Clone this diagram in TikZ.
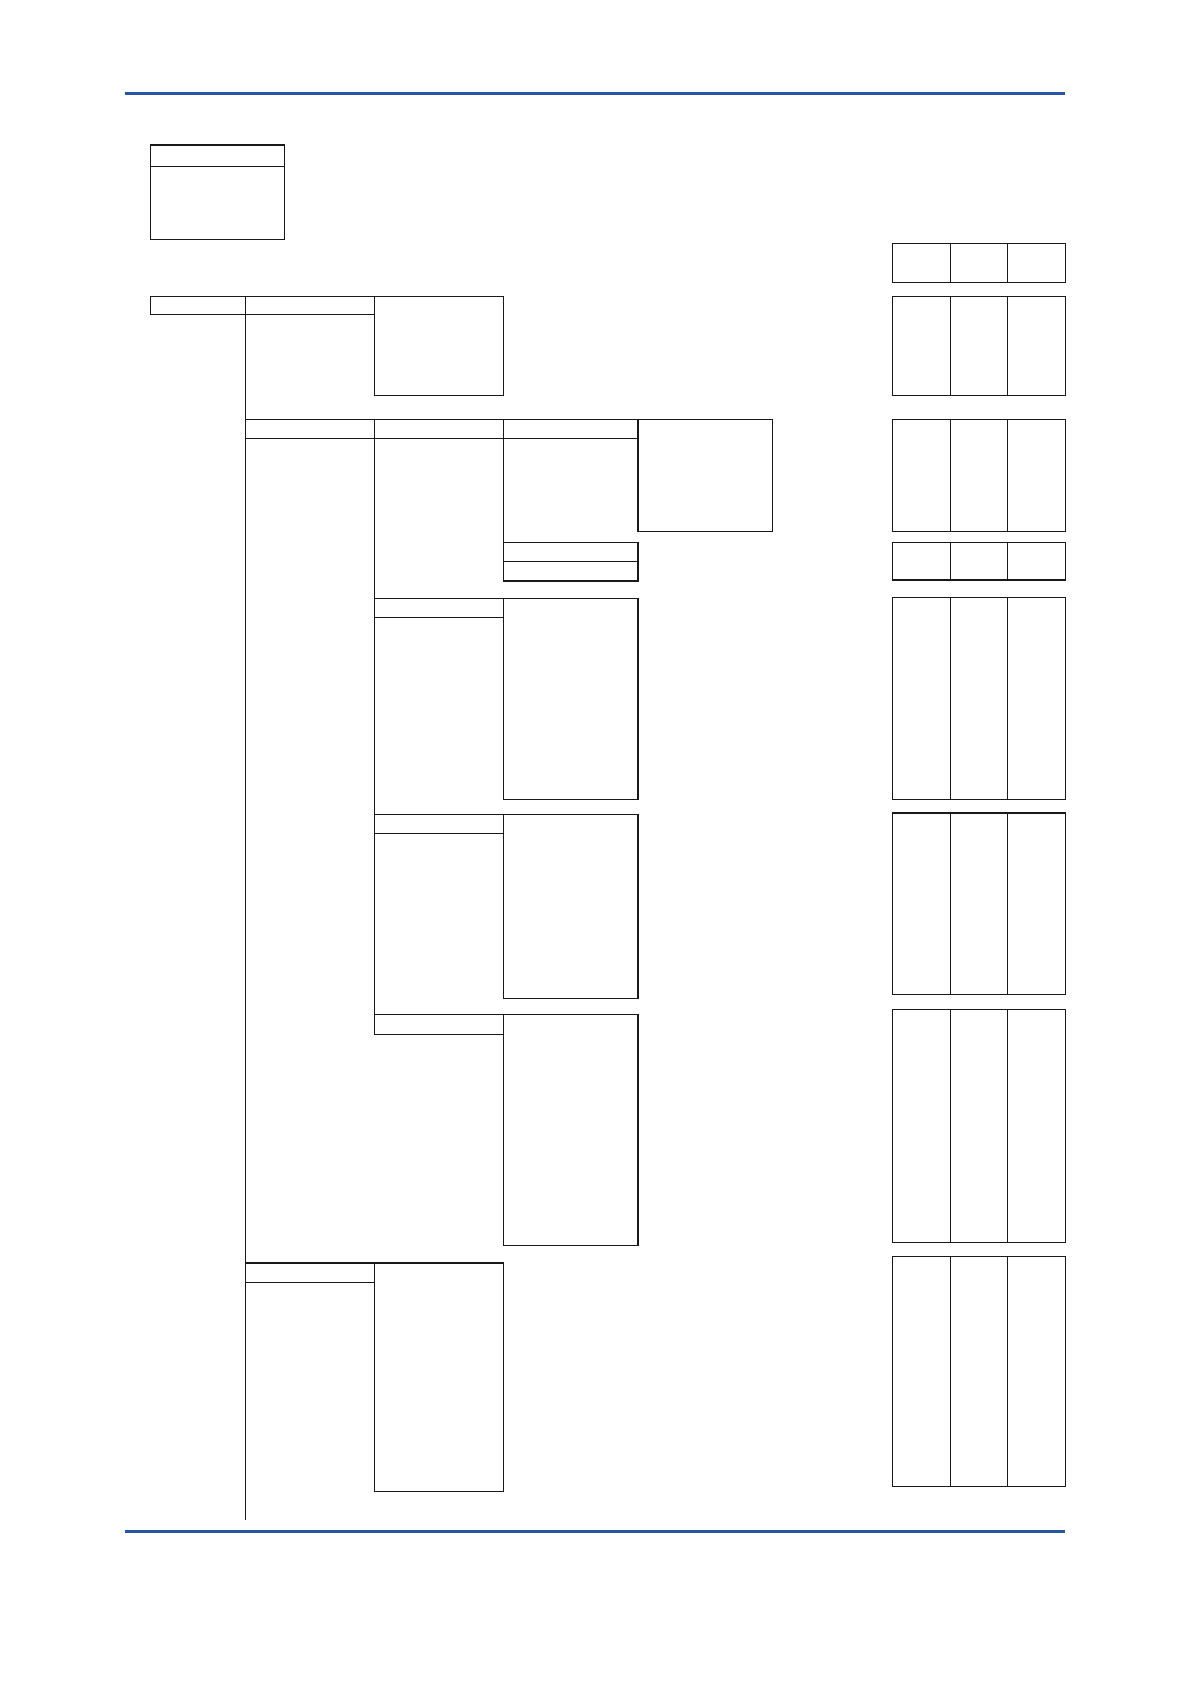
\documentclass[tikz,border=0pt]{standalone}
\usetikzlibrary{calc}
\definecolor{rule}{RGB}{38,84,166}
\tikzset{
  bx/.style={draw=black!90, line width=1.1pt, rectangle, inner sep=0pt, outer sep=0pt},
  tree/.style={draw=black!90, line width=0.9pt},
  bluerule/.style={draw=rule, line width=3.6pt},
}
\newcommand\bx[5]{\node[bx, anchor=north west, minimum width={(#4-#2)*1.074pt}, minimum height={(#5-#3)*1.074pt}] (#1) at (#2,#3) {};}
\newcommand\tbl[3]{\bx{#1}{831}{#2}{992}{#3}
  \draw[bx] ($(#1.north west)!0.3354!(#1.north east)$) -- ($(#1.south west)!0.3354!(#1.south east)$);
  \draw[bx] ($(#1.north west)!0.6646!(#1.north east)$) -- ($(#1.south west)!0.6646!(#1.south east)$);}
\begin{document}
\begin{tikzpicture}[x=1.074pt, y=-1.074pt]
\useasboundingbox[fill=white] (0,0) rectangle (1109,1568);
% blue rules
\coordinate (rtl) at (116,87); \coordinate (rtr) at (992,87);
\coordinate (rbl) at (116,1426); \coordinate (rbr) at (992,1426);
\draw[bluerule] (rtl) -- (rtr);
\draw[bluerule] (rbl) -- (rbr);
% legend
\bx{L1}{140}{135}{265}{155}
\bx{L2}{140}{155}{265}{223}
% right tables
\tbl{T0}{227}{263}
\tbl{TA}{276}{368}
\tbl{TB}{391}{495}
\tbl{TB2}{505}{540}
\tbl{TC}{556}{744}
\tbl{TD}{757}{926}
\tbl{TE}{940}{1157}
\tbl{TF}{1170}{1384}
% row A
\bx{A1}{140}{276}{229}{293}
\bx{A2}{229}{276}{349}{293}
\bx{A3}{349}{276}{469}{368}
% row B
\bx{B1}{229}{391}{349}{408}
\bx{B2}{349}{391}{469}{408}
\bx{B3}{469}{391}{594}{408}
\bx{B4}{594}{391}{719}{495}
\bx{B5}{469}{505}{594}{523}
\bx{B6}{469}{523}{594}{541}
% branch C
\bx{C1}{349}{557}{469}{575}
\bx{C2}{469}{557}{594}{744}
% branch D
\bx{D1}{349}{758}{469}{776}
\bx{D2}{469}{758}{594}{930}
% branch E
\bx{E1}{349}{945}{469}{963}
\bx{E2}{469}{945}{594}{1160}
% row F
\bx{F1}{229}{1176}{349}{1194}
\bx{F2}{349}{1176}{469}{1389}
% tree lines
\coordinate (treeend) at (229,1415);
\draw[tree] (A2.south west) -- (treeend);
\draw[bx] (B2.south west) -- (E1.north west);
\draw[bx] (B3.south west) -- (B5.north west);
\end{tikzpicture}
\end{document}
